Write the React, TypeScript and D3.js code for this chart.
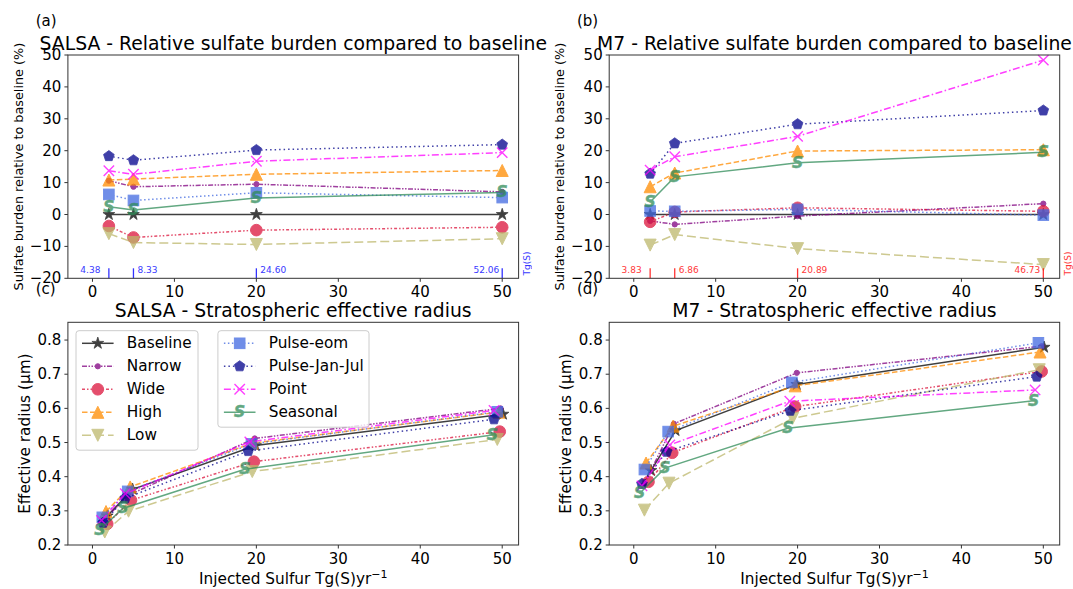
import React from "react";
import * as d3 from "d3";

const seriesNames = ["Baseline", "Narrow", "Wide", "High", "Low", "Pulse-eom", "Pulse-Jan-Jul", "Point", "Seasonal"];
const seriesColors = ["#000000", "#800080", "#DC143C", "#FF8C00", "#BDB76B", "#4169E1", "#00008B", "#FF00FF", "#2E8B57"];
const seriesMarkers = ["star", "dot", "circle", "triUp", "triDown", "square", "pentagon", "x", "S"];
const seriesDash = ["", "5,1.5,1.5,1.5,1.5,1.5", "3,2,1.5,2,1.5,2", "5.5,2.5", "9,4", "1.5,2.5", "1.5,3", "7,2.5,1.5,2.5", ""];

const injectedX = [2, 5, 20, 50];

const salsaBurden = [
  [0, 0, 0, 0],
  [10.6, 8.7, 9.5, 7.1],
  [-3.6, -7.2, -4.9, -4.0],
  [10.8, 11.1, 12.6, 13.8],
  [-6.0, -8.8, -9.4, -7.6],
  [6.3, 4.4, 6.8, 5.3],
  [18.3, 17.0, 20.2, 21.9],
  [13.7, 12.6, 16.7, 19.4],
  [2.4, 1.4, 5.2, 6.9],
];

const m7Burden = [
  [0, 0, 0, 0],
  [-2.0, -3.1, -0.5, 3.4],
  [-2.3, 0.8, 2.1, 1.0],
  [8.7, 13.0, 19.9, 20.3],
  [-9.6, -6.3, -10.7, -15.7],
  [1.1, 1.0, 1.6, -0.2],
  [12.8, 22.3, 28.3, 32.6],
  [13.9, 18.1, 24.5, 48.4],
  [3.9, 11.8, 16.2, 19.5],
];

const salsaRadiusX = [
  [1.8, 4.9, 19.9, 50.1],
  [1.3, 4.3, 19.8, 49.8],
  [1.8, 4.7, 19.7, 49.7],
  [1.65, 4.6, 19.5, 49.6],
  [1.5, 4.4, 19.5, 49.4],
  [1.2, 4.3, 19.4, 49.4],
  [1.3, 4.0, 19.0, 49.0],
  [1.1, 4.0, 19.2, 49.0],
  [0.9, 3.7, 18.6, 48.8],
];
const salsaRadiusY = [
  [0.285, 0.363, 0.491, 0.583],
  [0.27, 0.345, 0.512, 0.6],
  [0.262, 0.331, 0.444, 0.532],
  [0.298, 0.37, 0.498, 0.589],
  [0.238, 0.299, 0.415, 0.509],
  [0.281, 0.357, 0.496, 0.59],
  [0.265, 0.337, 0.475, 0.568],
  [0.272, 0.35, 0.502, 0.594],
  [0.244, 0.307, 0.422, 0.522],
];

const m7RadiusX = [
  [2.1, 5.1, 19.9, 50.1],
  [1.2, 4.9, 19.9, 49.8],
  [1.8, 4.7, 19.7, 49.8],
  [1.5, 4.8, 19.7, 49.6],
  [1.3, 4.3, 19.4, 49.5],
  [1.3, 4.2, 19.3, 49.4],
  [1.0, 4.0, 19.1, 49.2],
  [1.0, 4.4, 19.05, 49.0],
  [0.7, 3.8, 18.8, 48.8],
];
const m7RadiusY = [
  [0.418, 0.535, 0.67, 0.779],
  [0.375, 0.555, 0.704, 0.782],
  [0.385, 0.47, 0.605, 0.708],
  [0.44, 0.548, 0.666, 0.765],
  [0.302, 0.381, 0.571, 0.713],
  [0.421, 0.532, 0.676, 0.792],
  [0.379, 0.473, 0.593, 0.693],
  [0.373, 0.493, 0.621, 0.654],
  [0.351, 0.425, 0.542, 0.622],
];

const salsaTg = ["4.38", "8.33", "24.60", "52.06"];
const m7Tg = ["3.83", "6.86", "20.89", "46.73"];

const xTicks = [0, 10, 20, 30, 40, 50];
const burdenTicks = [-20, -10, 0, 10, 20, 30, 40, 50];
const radiusTicks = [0.2, 0.3, 0.4, 0.5, 0.6, 0.7, 0.8];

const FONT = "DejaVu Sans, Verdana, sans-serif";
const SPINE = "#333333";

function markerEl(type: string, cx: number, cy: number, color: string, key: any) {
  const sw = 1;
  if (type === "circle") return <circle key={key} cx={cx} cy={cy} r={5.8} fill={color} stroke={color} strokeWidth={sw} />;
  if (type === "dot") return <circle key={key} cx={cx} cy={cy} r={2.6} fill={color} stroke={color} strokeWidth={sw} />;
  if (type === "square") return <rect key={key} x={cx - 5.3} y={cy - 5.3} width={10.6} height={10.6} fill={color} stroke={color} strokeWidth={sw} />;
  if (type === "triUp" || type === "triDown") {
    const w = 6, s = type === "triUp" ? 1 : -1;
    const p = `M${cx},${cy - s * w}L${cx - w},${cy + s * w}L${cx + w},${cy + s * w}Z`;
    return <path key={key} d={p} fill={color} stroke={color} strokeWidth={sw} strokeLinejoin="miter" />;
  }
  if (type === "pentagon" || type === "star") {
    const r = type === "star" ? 6.2 : 5.6;
    const pts: string[] = [];
    if (type === "pentagon") {
      for (let i = 0; i < 5; i++) {
        const a = -Math.PI / 2 + (i * 2 * Math.PI) / 5;
        pts.push(`${cx + r * Math.cos(a)},${cy + r * Math.sin(a)}`);
      }
    } else {
      for (let i = 0; i < 10; i++) {
        const a = -Math.PI / 2 + (i * Math.PI) / 5;
        const rr = i % 2 === 0 ? r : r * 0.382;
        pts.push(`${cx + rr * Math.cos(a)},${cy + rr * Math.sin(a)}`);
      }
    }
    return <polygon key={key} points={pts.join(" ")} fill={color} stroke={color} strokeWidth={sw * 0.8} strokeLinejoin="miter" />;
  }
  if (type === "x") {
    const h = 5.2;
    return (
      <path key={key} d={`M${cx - h},${cy - h}L${cx + h},${cy + h}M${cx - h},${cy + h}L${cx + h},${cy - h}`} stroke={color} strokeWidth={1.4} fill="none" />
    );
  }
  if (type === "S") {
    return (
      <text key={key} x={cx} y={cy} fontFamily={FONT} fontStyle="italic" fontWeight="bold" fontSize={15.5} fill={color} stroke={color} strokeWidth={0.5}
        textAnchor="middle" dominantBaseline="central">S</text>
    );
  }
  return null;
}

type PanelProps = {
  left: number; right: number; top: number; bottom: number;
  yDomain: [number, number]; yTicks: number[]; yFmt: (v: number) => string;
  xs: number[][]; ys: number[][];
  title: string; label: string; ylabel: string; ylabelSize: number; ylabelX: number;
  xlabel?: boolean; tg?: string[]; tgColor?: string;
};

function Panel(p: PanelProps) {
  const x = d3.scaleLinear().domain([-3, 52]).range([p.left, p.right]);
  const y = d3.scaleLinear().domain(p.yDomain).range([p.bottom, p.top]);
  const line = d3.line<[number, number]>().x((d) => x(d[0])).y((d) => y(d[1]));
  const cxm = (p.left + p.right) / 2;
  const tgOffsets = [-8.5, 4, 4, -3];
  const tgAnchors = ["end", "start", "start", "end"];
  return (
    <g>
      {seriesNames.map((name, i) => {
        const pts: [number, number][] = p.xs[i].map((xv, j) => [xv, p.ys[i][j]]);
        return (
          <g key={name} opacity={0.75}>
            <path d={line(pts) || ""} fill="none" stroke={seriesColors[i]} strokeWidth={1.5} strokeDasharray={seriesDash[i] || undefined} />
            {pts.map((d, j) => markerEl(seriesMarkers[i], x(d[0]), y(d[1]), seriesColors[i], j))}
          </g>
        );
      })}
      {p.tg && p.tg.map((t, j) => {
        const px = x(injectedX[j]);
        return (
          <g key={"tg" + j} opacity={0.8}>
            <line x1={px} x2={px} y1={p.bottom} y2={p.bottom - 10} stroke={p.tgColor} strokeWidth={1.3} />
            <text x={px + tgOffsets[j]} y={p.bottom - 5.5} fontSize={9} fontFamily={FONT} fill={p.tgColor} textAnchor={tgAnchors[j] as any}>{t}</text>
          </g>
        );
      })}
      {p.tg && (
        <text transform={`translate(${p.right + 8.2},${p.bottom - 14.8}) rotate(-90)`} fontSize={9} fontFamily={FONT} fill={p.tgColor} opacity={0.8}
          textAnchor="middle" dominantBaseline="central">Tg(S)</text>
      )}
      <rect x={p.left} y={p.top} width={p.right - p.left} height={p.bottom - p.top} fill="none" stroke={SPINE} strokeWidth={1} />
      {xTicks.map((t) => (
        <g key={"xt" + t}>
          <line x1={x(t)} x2={x(t)} y1={p.bottom} y2={p.bottom + 3.5} stroke={SPINE} strokeWidth={1} />
          <text x={x(t)} y={p.bottom + 18.5} fontSize={15} fontFamily={FONT} textAnchor="middle" fill="#000">{t}</text>
        </g>
      ))}
      {p.yTicks.map((t) => (
        <g key={"yt" + t}>
          <line x1={p.left - 3.5} x2={p.left} y1={y(t)} y2={y(t)} stroke={SPINE} strokeWidth={1} />
          <text x={p.left - 6.5} y={y(t)} fontSize={15} fontFamily={FONT} textAnchor="end" dominantBaseline="central" fill="#000">{p.yFmt(t)}</text>
        </g>
      ))}
      <text x={cxm} y={p.top - 5.2} fontSize={18.8} fontFamily={FONT} textAnchor="middle" fill="#000">{p.title}</text>
      <text x={p.left - 32.2} y={p.top - 28.7} fontSize={15} fontFamily={FONT} fill="#000">{p.label}</text>
      <text transform={`translate(${p.ylabelX},${(p.top + p.bottom) / 2}) rotate(-90)`} fontSize={p.ylabelSize} fontFamily={FONT}
        textAnchor="middle" dominantBaseline="central" fill="#000">{p.ylabel}</text>
      {p.xlabel && (
        <text x={cxm} y={p.bottom + 39} fontSize={15.3} fontFamily={FONT} textAnchor="middle" fill="#000">
          Injected Sulfur Tg(S)yr<tspan fontSize={11} dy={-6.5}>−1</tspan>
        </text>
      )}
    </g>
  );
}

function Legend({ x0, y0, w, idx }: { x0: number; y0: number; w: number; idx: number[] }) {
  const rowH = 23;
  const h = idx.length * rowH + 4.5;
  return (
    <g>
      <rect x={x0} y={y0} width={w} height={h} rx={3} ry={3} fill="#ffffff" fillOpacity={0.8} stroke="#cccccc" strokeWidth={1} />
      {idx.map((i, k) => {
        const cy = y0 + 12.6 + k * rowH;
        const lx1 = x0 + 6, lx2 = x0 + 37.6, mx = (lx1 + lx2) / 2;
        return (
          <g key={i}>
            <g opacity={0.75}>
              <line x1={lx1} x2={lx2} y1={cy} y2={cy} stroke={seriesColors[i]} strokeWidth={1.5} strokeDasharray={seriesDash[i] || undefined} />
              {markerEl(seriesMarkers[i], mx, cy, seriesColors[i], "m")}
            </g>
            <text x={x0 + 50.8} y={cy} fontSize={15.3} fontFamily={FONT} dominantBaseline="central" fill="#000">{seriesNames[i]}</text>
          </g>
        );
      })}
    </g>
  );
}

export default function App() {
  const L1 = 67.9, R1 = 518.6, L2 = 609.2, R2 = 1059.7;
  const T1 = 55, B1 = 278.3, T2 = 322.3, B2 = 545;
  const pctFmt = (v: number) => (v < 0 ? "−" + Math.abs(v) : String(v));
  const radFmt = (v: number) => v.toFixed(1);
  const burdenLabel = "Sulfate burden relative to baseline (%)";
  const radiusLabel = "Effective radius (μm)";
  return (
    <svg width={1073} height={589} style={{ position: "absolute", left: 0, top: 0, background: "#fff" }}>
      <rect x={0} y={0} width={1073} height={589} fill="#fff" />
      <Panel left={L1} right={R1} top={T1} bottom={B1} yDomain={[-20, 50]} yTicks={burdenTicks} yFmt={pctFmt}
        xs={seriesNames.map(() => injectedX)} ys={salsaBurden}
        title="SALSA - Relative sulfate burden compared to baseline" label="(a)" ylabel={burdenLabel} ylabelSize={12.8} ylabelX={18.5}
        tg={salsaTg} tgColor="#0000ff" />
      <Panel left={L2} right={R2} top={T1} bottom={B1} yDomain={[-20, 50]} yTicks={burdenTicks} yFmt={pctFmt}
        xs={seriesNames.map(() => injectedX)} ys={m7Burden}
        title="M7 - Relative sulfate burden compared to baseline" label="(b)" ylabel={burdenLabel} ylabelSize={12.8} ylabelX={559.7}
        tg={m7Tg} tgColor="#ff0000" />
      <Panel left={L1} right={R1} top={T2} bottom={B2} yDomain={[0.2, 0.852]} yTicks={radiusTicks} yFmt={radFmt}
        xs={salsaRadiusX} ys={salsaRadiusY}
        title="SALSA - Stratospheric effective radius" label="(c)" ylabel={radiusLabel} ylabelSize={15.3} ylabelX={24.5} xlabel />
      <Panel left={L2} right={R2} top={T2} bottom={B2} yDomain={[0.2, 0.852]} yTicks={radiusTicks} yFmt={radFmt}
        xs={m7RadiusX} ys={m7RadiusY}
        title="M7 - Stratospheric effective radius" label="(d)" ylabel={radiusLabel} ylabelSize={15.3} ylabelX={565.5} xlabel />
      <Legend x0={76} y0={330.7} w={122} idx={[0, 1, 2, 3, 4]} />
      <Legend x0={217.9} y0={330.7} w={151.1} idx={[5, 6, 7, 8]} />
    </svg>
  );
}
